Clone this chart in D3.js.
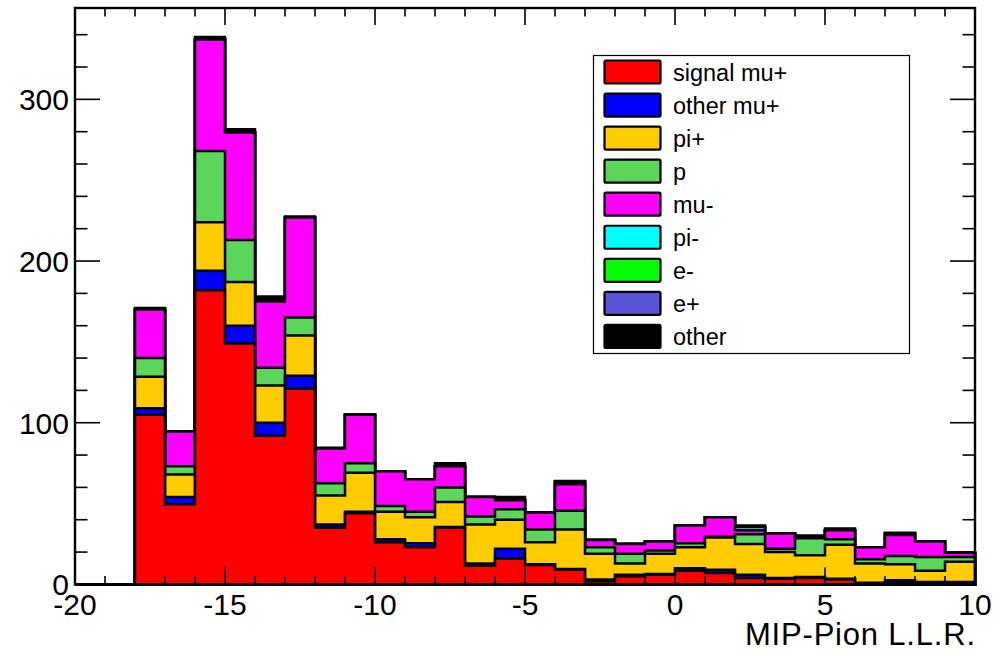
<!DOCTYPE html>
<html>
<head>
<meta charset="utf-8">
<script src="https://cdn.jsdelivr.net/npm/d3@7"></script>
<style>
  html, body { margin: 0; padding: 0; background: #fff; }
  svg { display: block; font-family: "Liberation Sans", Arial, Helvetica, sans-serif; }
</style>
</head>
<body>
<svg id="chart" width="1002" height="653"></svg>
<script>
// ---- Data (bin low edges, width 1, from -20 to 10) ----
const binEdges = d3.range(-20, 10, 1);
const signalMuP = [0,0,105,49.5,182,149,92,121,35,44,26,23,35,11.5,16,12,9,2,5,6,8.5,7,4,3.5,4,3,0.5,1,1,1];
const otherMuP  = [0,0,4,4.5,12,11,8,8,2,1,2,2.5,0.5,1.5,6,0.5,0.5,1,1,0.5,1.5,2,2,0.5,0.5,0.5,0.5,1.5,0.5,0.5];
const piPlus    = [0,0,19.5,14,30,27,23,25,18,24,17,16,15.5,24,18,13.5,24.5,16,7,12.5,13,20,19,16,13.5,21,12,10,7,12.5];
const proton    = [0,0,11.5,5,44,26,11,11,7.5,6,3.5,3.5,9,5,6.5,8,11.5,4,6,2,2.5,0.5,6,2,10.5,3.5,2.5,5,8.5,3];
const muMinus   = [0,0,30,21.5,69,66.5,41,62,21.5,30,21.5,20,13,12,5.5,10.5,16.5,4.5,6,5.5,11,12,2.5,9.5,0.5,5.5,7.5,13,9.5,2.5];
const piMinus   = [0,0,0,0,0,0,0,0,0,0,0,0,0,0,0,0,1.5,0,0,0,0,0,2,0,0,0,0,1,0,0];
const eMinus    = [0,0,0,0,0,0,0,0,0,0,0,0,0,0,0,0,0,0,0,0,0,0,0,0,0,0,0,0,0,0];
const ePlus     = [0,0,0,0,0,0,0,0,0,0,0,0,0,0,0,0,0,0,0,0,0,0,0,0,0,0,0,0,0,0];
const otherP    = [0,0,1,0,1.5,2,3,0.5,0.5,0,0,0,2,0,2,0,0.5,0,0,0,0,0,1,0,1.3,1,0,0.5,0,0];

const seriesNames  = ["signal mu+","other mu+","pi+","p","mu-","pi-","e-","e+","other"];
const seriesData   = [signalMuP, otherMuP, piPlus, proton, muMinus, piMinus, eMinus, ePlus, otherP];
const seriesColors = ["#ff0000","#0000ff","#ffcc00","#5bd65b","#ff00ff","#00ffff","#00ff00","#5a55d8","#000000"];

const xTicksMajor = [-20,-15,-10,-5,0,5,10];
const yTicksMajor = [0,100,200,300];
const xTitle = "MIP-Pion L.L.R.";

// ---- Layout ----
const L = 75, R = 975, T = 8, B = 584.4;
const svg = d3.select("#chart");

const x = d3.scaleLinear().domain([-20, 10]).range([L, R]);
const y = d3.scaleLinear().domain([0, 356.5]).range([B, T]);

const table = binEdges.map((e, i) => {
  const row = { edge: e };
  seriesNames.forEach((n, k) => row[n] = seriesData[k][i]);
  return row;
});
const stack = d3.stack().keys(seriesNames)(table);

function stepPoints(layer) {
  const pts = layer.map((d, i) => ({ x: binEdges[i], top: d[1] }));
  pts.push({ x: 10, top: layer[layer.length - 1][1] });
  return pts;
}
const area = d3.area()
  .x(d => x(d.x))
  .y0(y(0))
  .y1(d => y(d.top))
  .curve(d3.curveStepAfter);

const g = svg.append("g");
for (let k = stack.length - 1; k >= 0; k--) {
  g.append("path")
    .attr("d", area(stepPoints(stack[k])))
    .attr("fill", seriesColors[k])
    .attr("stroke", "#000")
    .attr("stroke-width", 2.5)
    .attr("stroke-linejoin", "miter");
}

// ---- Axes / frame ----
const axG = svg.append("g").attr("stroke", "#000").attr("stroke-width", 1.6);
d3.range(-20, 10.001, 1).forEach(v => {
  const major = xTicksMajor.includes(v);
  const len = major ? 17 : 8.5;
  axG.append("line").attr("x1", x(v)).attr("x2", x(v)).attr("y1", B).attr("y2", B - len);
  axG.append("line").attr("x1", x(v)).attr("x2", x(v)).attr("y1", T).attr("y2", T + len);
});
d3.range(0, 356, 20).forEach(v => {
  const major = yTicksMajor.includes(v);
  const len = major ? 25 : 12.5;
  axG.append("line").attr("x1", L).attr("x2", L + len).attr("y1", y(v)).attr("y2", y(v));
  axG.append("line").attr("x1", R).attr("x2", R - len).attr("y1", y(v)).attr("y2", y(v));
});
svg.append("rect")
  .attr("x", L).attr("y", T).attr("width", R - L).attr("height", B - T)
  .attr("fill", "none").attr("stroke", "#000").attr("stroke-width", 2.4);

const labG = svg.append("g").attr("font-size", 30).attr("fill", "#000");
xTicksMajor.forEach(v => {
  labG.append("text").attr("x", x(v)).attr("y", 615)
    .attr("text-anchor", "middle").text(v);
});
yTicksMajor.forEach(v => {
  labG.append("text").attr("x", 69).attr("y", y(v) + 11)
    .attr("text-anchor", "end").text(v);
});
svg.append("text").attr("x", 975).attr("y", 645)
  .attr("text-anchor", "end").attr("font-size", 31)
  .attr("textLength", 230).attr("lengthAdjust", "spacing").text(xTitle);

// ---- Legend ----
const lg = svg.append("g");
lg.append("rect").attr("x", 593.5).attr("y", 55.5).attr("width", 316).attr("height", 298)
  .attr("fill", "#fff").attr("stroke", "#000").attr("stroke-width", 1.2);
seriesNames.forEach((n, k) => {
  const cy = 72 + k * 33.05;
  lg.append("rect").attr("x", 604.5).attr("y", cy - 11.5).attr("width", 56).attr("height", 23)
    .attr("rx", 1.5)
    .attr("fill", seriesColors[k]).attr("stroke", "#000").attr("stroke-width", 2.2);
  lg.append("text").attr("x", 673).attr("y", cy + 8.5)
    .attr("font-size", 23.5).text(n);
});
</script>
</body>
</html>
